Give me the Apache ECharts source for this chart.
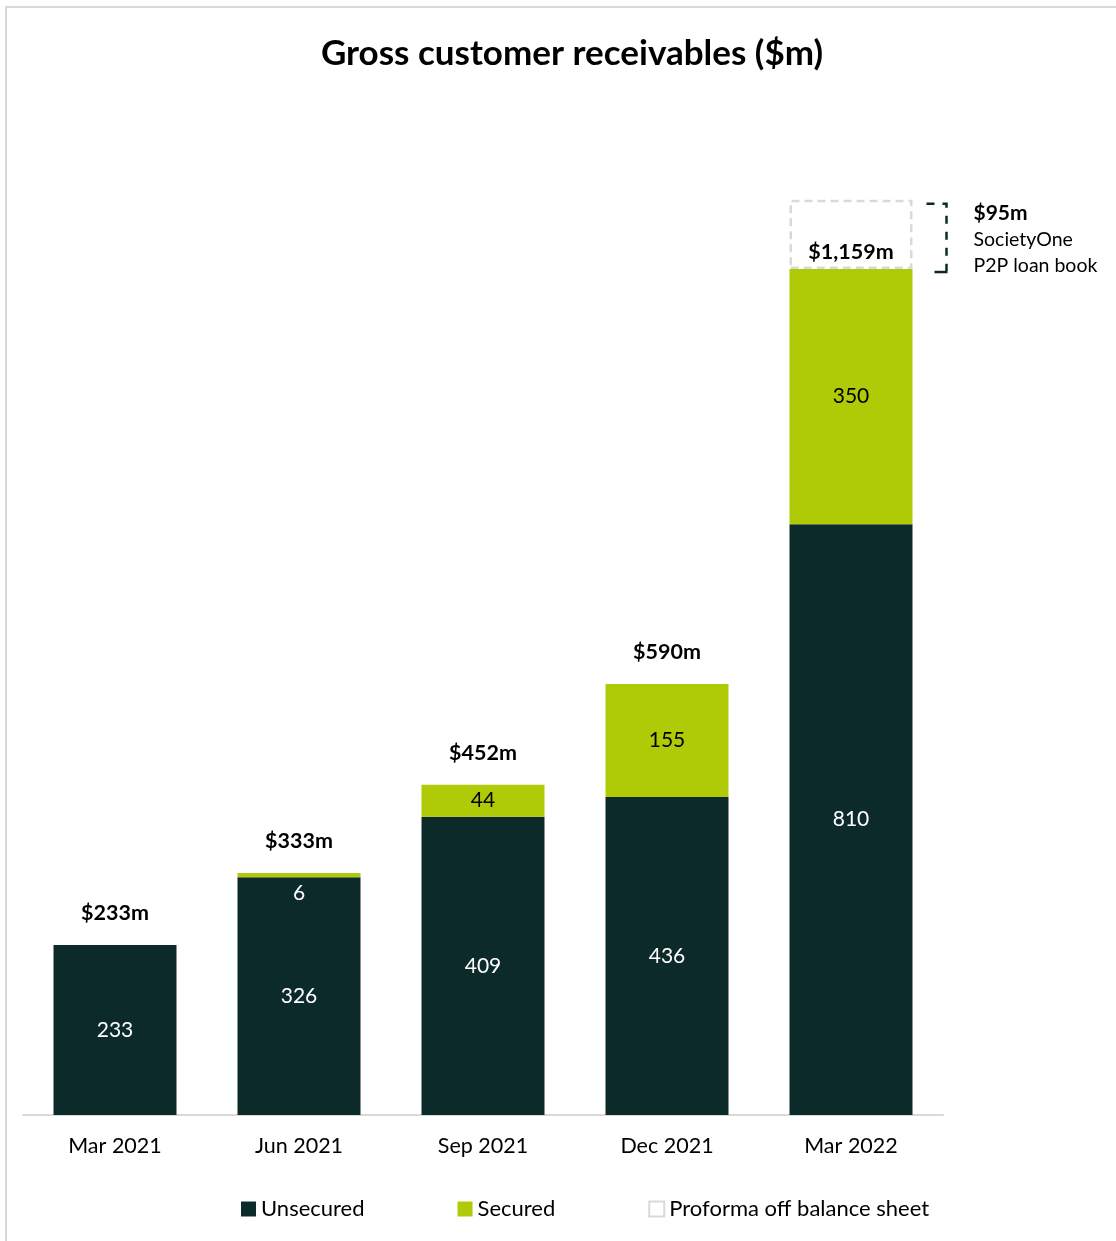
<!DOCTYPE html>
<html>
<head>
<meta charset="utf-8">
<script src="https://cdn.jsdelivr.net/npm/echarts@6/dist/echarts.min.js"></script>
<style>
  html, body { margin: 0; padding: 0; background: #fff; }
  #chart { width: 1116px; height: 1241px; }
</style>
</head>
<body>
<div id="chart"></div>
<script>
// data
const categories = ['Mar 2021', 'Jun 2021', 'Sep 2021', 'Dec 2021', 'Mar 2022']
const unsecured = [233, 326, 409, 436, 810]
const secured = [null, 6, 44, 155, 350]
const proforma = [null, null, null, null, 95]
const totalLabels = ['$233m', '$333m', '$452m', '$590m', '$1,159m']
const proformaNote = ['$95m', 'SocietyOne', 'P2P loan book']

const DARK = '#0c2a2a'
const GREEN = '#afcb08'
const GREY = '#d9d9d9'
const FONT = 'Lato, "Open Sans", sans-serif'

const chart = echarts.init(document.getElementById('chart'))

chart.setOption({
  animation: false,
  textStyle: { fontFamily: FONT },
  title: {
    text: 'Gross customer receivables ($m)',
    left: 567,
    textAlign: 'center',
    top: 31,
    textStyle: { fontSize: 35, fontWeight: 'bold', color: '#000', fontFamily: FONT },
  },
  grid: { left: 23, right: 173, top: 94, bottom: 126 },
  legend: {
    data: ['Unsecured', 'Secured', 'Proforma off balance sheet'],
    left: 241,
    top: 1198,
    padding: 0,
    icon: 'rect',
    itemWidth: 15,
    itemHeight: 15,
    itemGap: 93,
    textStyle: { fontSize: 22, color: '#000', fontFamily: FONT },
  },
  xAxis: {
    type: 'category',
    data: categories,
    axisLine: { lineStyle: { color: GREY, width: 2 } },
    axisTick: { show: false },
    axisLabel: { fontSize: 21.5, color: '#000', margin: 20, fontFamily: FONT },
  },
  yAxis: {
    type: 'value',
    min: 0,
    max: 1400,
    show: false,
    splitLine: { show: false },
  },
  series: [
    {
      name: 'Unsecured',
      type: 'bar',
      stack: 'all',
      barWidth: 123,
      data: unsecured,
      itemStyle: { color: DARK },
      label: { show: true, position: 'inside', color: '#fff', fontSize: 21, fontFamily: FONT },
    },
    {
      name: 'Secured',
      type: 'bar',
      stack: 'all',
      barWidth: 123,
      data: secured.map((v, i) => (i === 1 ? { value: v, label: { position: 'bottom', distance: 5, color: '#fff' } } : v)),
      itemStyle: { color: GREEN },
      label: { show: true, position: 'inside', color: '#000', fontSize: 21, fontFamily: FONT },
    },
    {
      name: 'Total',
      type: 'bar',
      stack: 'all',
      barWidth: 123,
      data: totalLabels.map((t, i) => ({
        value: 0,
        label: { distance: i === 4 ? 6 : 21 },
      })),
      itemStyle: { color: 'transparent' },
      label: {
        show: true,
        position: 'top',
        fontSize: 21.5,
        fontWeight: 'bold',
        color: '#000',
        fontFamily: FONT,
        formatter: p => totalLabels[p.dataIndex],
      },
    },
    {
      name: 'Proforma off balance sheet',
      type: 'bar',
      stack: 'all',
      barWidth: 123,
      data: proforma,
      itemStyle: {
        color: 'rgba(255,255,255,0)',
        borderColor: GREY,
        borderWidth: 2.5,
        borderType: [8, 5],
      },
      label: {
        show: true,
        position: 'right',
        distance: 61,
        padding: [9, 0, 0, 0],
        formatter: () => '{a|' + proformaNote[0] + '}\n{b|' + proformaNote[1] + '}\n{b|' + proformaNote[2] + '}',
        rich: {
          a: { fontSize: 21, fontWeight: 'bold', color: '#000', lineHeight: 27, fontFamily: FONT },
          b: { fontSize: 19.5, color: '#000', lineHeight: 26, fontFamily: FONT },
        },
      },
    },
  ],
})

// frame + bracket next to the proforma box
const last = categories.length - 1
const stackTop = unsecured[last] + secured[last]
const topPt = chart.convertToPixel({ seriesIndex: 0 }, [last, stackTop + proforma[last]])
const botPt = chart.convertToPixel({ seriesIndex: 0 }, [last, stackTop])
const bx = topPt[0] + 123 / 2 + 34
const dash = { stroke: DARK, lineWidth: 2.5, lineDash: [8, 8] }

chart.setOption({
  graphic: [
    {
      type: 'rect',
      shape: { x: 6, y: 7, width: 1300, height: 1400 },
      style: { fill: 'none', stroke: GREY, lineWidth: 2 },
      silent: true,
    },
    {
      type: 'polyline',
      shape: { points: [[bx - 20, topPt[1] + 4], [bx, topPt[1] + 4], [bx, botPt[1] + 2]] },
      style: Object.assign({ fill: null }, dash),
      silent: true,
    },
    {
      type: 'line',
      shape: { x1: bx - 12, y1: botPt[1] + 3, x2: bx + 1, y2: botPt[1] + 3 },
      style: { stroke: DARK, lineWidth: 2.5 },
      silent: true,
    },
  ],
})
</script>
</body>
</html>
